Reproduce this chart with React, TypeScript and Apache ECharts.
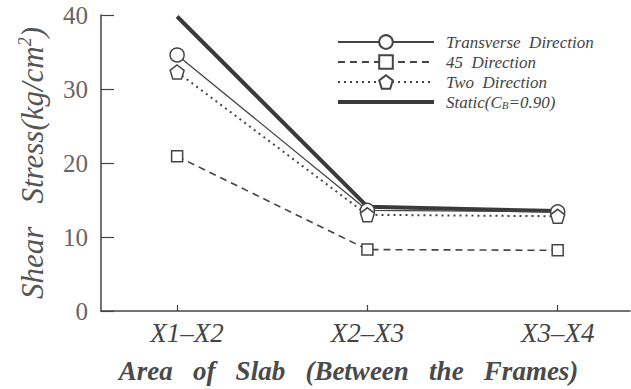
import React, { useEffect, useRef } from "react";
import * as echarts from "echarts";

const categories = ["X1–X2", "X2–X3", "X3–X4"];
const transverse = [34.6, 13.6, 13.4];
const dir45 = [20.9, 8.3, 8.2];
const twoDir = [32.3, 13.0, 12.8];
const staticCb = [39.8, 14.1, 13.5];
const yTicks = [0, 10, 20, 30, 40];

const seriesNames = ["Transverse Direction", "45 Direction", "Two Direction", "Static(C_B=0.90)"];

const pentagon = "path://M0,-1 L0.951,-0.309 L0.588,0.809 L-0.588,0.809 L-0.951,-0.309 Z";
const thickLine = "path://M0,0 L96,0 L96,4 L0,4 Z";
const FONT = "Liberation Serif";
const INK = "#444";

export default function App() {
  const ref = useRef<HTMLDivElement>(null);
  useEffect(() => {
    if (!ref.current) return;
    const chart = echarts.init(ref.current, null, { renderer: "svg" });
    const pts = (arr: number[]) => categories.map((_, i) => [i, arr[i]]);
    const catStyle = { fontFamily: FONT, fontStyle: "italic", fontSize: 27, color: INK };
    chart.setOption({
      animation: false,
      backgroundColor: "#fff",
      textStyle: { fontFamily: FONT },
      grid: { left: 101, right: 1, top: 15, bottom: 76 },
      legend: {
        orient: "vertical",
        left: 337,
        top: 33.5,
        padding: 0,
        itemWidth: 96,
        itemHeight: 17,
        itemGap: 3,
        textStyle: {
          fontFamily: FONT,
          fontStyle: "italic",
          fontSize: 17,
          color: INK,
          padding: [0, 0, 0, 7],
          rich: {
            sub: { fontFamily: FONT, fontStyle: "italic", fontSize: 11, color: INK, verticalAlign: "bottom", padding: [6, 0, 0, 0] },
          },
        },
        formatter: (n: string) => (n.indexOf("C_B") >= 0 ? "Static(C{sub|B}=0.90)" : n.replace(/ /g, "  ")),
        data: [
          { name: seriesNames[0] },
          { name: seriesNames[1] },
          { name: seriesNames[2] },
          { name: seriesNames[3], icon: thickLine },
        ],
      },
      xAxis: {
        type: "value",
        min: -0.4,
        max: 2.38,
        splitLine: { show: false },
        axisLine: { show: true, onZero: false, lineStyle: { color: INK, width: 1.5 } },
        axisTick: { show: true, inside: true, length: 6, customValues: [0, 1, 2], lineStyle: { color: INK, width: 1.2 } },
        axisLabel: {
          customValues: [0, 1, 2],
          formatter: (v: number) => {
            const i = Math.round(v);
            const c = categories[i] ?? "";
            return i === 0 ? `{first|${c}}` : `{cat|${c}}`;
          },
          ...catStyle,
          margin: 8,
          rich: {
            cat: catStyle,
            first: { ...catStyle, padding: [0, 0, 0, 20] },
          },
        },
        name: "Area   of   Slab   (Between   the   Frames)",
        nameLocation: "middle",
        nameGap: 46,
        nameTextStyle: {
          fontFamily: FONT,
          fontStyle: "italic",
          fontWeight: "bold",
          fontSize: 27,
          color: "#4a4a4a",
          padding: [0, 34, 0, 0],
        },
      },
      yAxis: {
        type: "value",
        min: yTicks[0],
        max: yTicks[yTicks.length - 1],
        interval: 10,
        splitLine: { show: false },
        axisLine: { show: true, onZero: false, lineStyle: { color: INK, width: 1.5 } },
        axisTick: { show: true, inside: true, length: 13, lineStyle: { color: INK, width: 1.2 } },
        axisLabel: { fontFamily: FONT, fontSize: 25, color: "#666", margin: 13 },
        name: "{a|Shear   Stress(kg/cm}{s|2}{a|)}",
        nameLocation: "middle",
        nameGap: 53,
        nameTextStyle: {
          rich: {
            a: { fontFamily: FONT, fontStyle: "italic", fontSize: 31, color: "#555" },
            s: { fontFamily: FONT, fontStyle: "italic", fontSize: 18, color: "#555", verticalAlign: "top", padding: [0, 0, 14, 0] },
          },
        },
      },
      series: [
        {
          name: seriesNames[3],
          type: "line",
          data: pts(staticCb),
          symbol: "none",
          z: 1,
          lineStyle: { color: "#3a3a3a", width: 4 },
          itemStyle: { color: "#3a3a3a" },
        },
        {
          name: seriesNames[0],
          type: "line",
          data: pts(transverse),
          symbol: "circle",
          symbolSize: 14,
          z: 3,
          lineStyle: { color: INK, width: 1.3 },
          itemStyle: { color: "#fff", borderColor: INK, borderWidth: 1.5 },
        },
        {
          name: seriesNames[1],
          type: "line",
          data: pts(dir45),
          symbol: "rect",
          symbolSize: 11,
          z: 3,
          lineStyle: { color: INK, width: 1.6, type: [7, 5] },
          itemStyle: { color: "#fff", borderColor: INK, borderWidth: 1.5 },
        },
        {
          name: seriesNames[2],
          type: "line",
          data: pts(twoDir),
          symbol: pentagon,
          symbolSize: 14,
          z: 3,
          lineStyle: { color: INK, width: 2, type: [2, 4] },
          itemStyle: { color: "#fff", borderColor: INK, borderWidth: 1.5 },
        },
      ],
    });
    return () => chart.dispose();
  }, []);
  return <div ref={ref} style={{ width: 631, height: 389, position: "absolute", left: 0, top: 0 }} />;
}
